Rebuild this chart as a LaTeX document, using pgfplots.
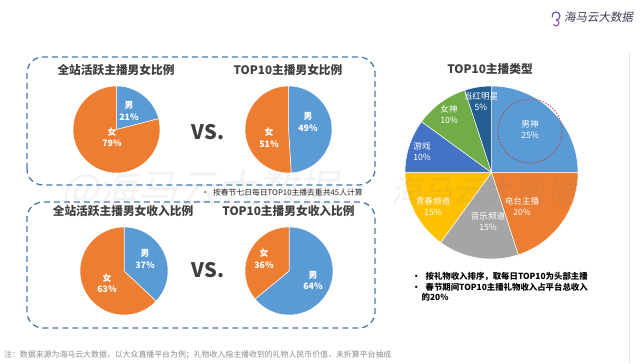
\documentclass[border=0pt]{standalone}
\usepackage{pgfplots}
\pgfplotsset{compat=1.18}
\usepackage{fontspec}
\setmainfont{Noto Sans CJK SC}
\newfontfamily\logofont[FakeSlant=0.18]{Noto Sans CJK SC}
\definecolor{cmale}{HTML}{5B9BD5}
\definecolor{cfemale}{HTML}{ED7D31}
\definecolor{cgray}{HTML}{A5A5A5}
\definecolor{cyellow}{HTML}{FFC000}
\definecolor{cdblue}{HTML}{4472C4}
\definecolor{cgreen}{HTML}{70AD47}
\definecolor{cnavy}{HTML}{255E91}
\definecolor{boxblue}{HTML}{4A78A8}
\definecolor{titlec}{HTML}{404040}
\definecolor{notec}{HTML}{8C8C8C}
\definecolor{redc}{HTML}{C0392B}
\pgfplotsset{pie/.style={scale only axis, hide axis, xmin=-1, xmax=1, ymin=-1, ymax=1, anchor=center, clip=false}}
% slice: #1 = cumulative share before it, #2 = share (percent), #3 = colour; slices run clockwise from 12 o'clock
\newcommand\pieslice[3]{\addplot[fill=#3, draw=white, line width=0.5pt, mark=none, domain=90-3.6*(#1+#2):90-3.6*#1, samples=90, variable=\t] ({cos(\t)},{sin(\t)}) -- (axis cs:0,0) -- cycle;}
\newcommand\ttl{\fontsize{11.7}{14}\selectfont\bfseries\color{titlec}}
\tikzset{lbl/.style={align=center, text=white, font=\fontsize{8.8}{11.5}\selectfont\bfseries},
         blbl/.style={align=center, text=white, font=\fontsize{8.6}{11}\selectfont}}
\begin{document}
\begin{tikzpicture}
\fill[white] (0pt,0pt) rectangle (644pt,363pt);
% watermark
\node[opacity=0.09, text=gray] at (200pt,173pt) {\logofont\fontsize{40}{44}\selectfont @海马云大数据};
% boxes
\draw[boxblue, line width=1.3pt, dash pattern=on 6pt off 4pt, rounded corners=16pt] (27pt,178pt) rectangle (375pt,306pt);
\draw[boxblue, line width=1.3pt, dash pattern=on 6pt off 4pt, rounded corners=16pt] (27pt,35pt) rectangle (375pt,161pt);
% right divider
\draw[gray!20, line width=0.8pt] (629pt,0pt) -- (629pt,310pt);
% titles
\node at (116pt,293pt) {\ttl 全站活跃主播男女比例};
\node at (288pt,293pt) {\ttl TOP10主播男女比例};
\node at (123pt,152pt) {\ttl 全站活跃主播男女收入比例};
\node at (288.5pt,152pt) {\ttl TOP10主播男女收入比例};
\node at (490pt,294pt) {\ttl TOP10主播类型};
\node at (208pt,231pt) {\fontsize{20}{22}\selectfont\bfseries\color{titlec}VS.};
\node at (208pt,93pt) {\fontsize{20}{22}\selectfont\bfseries\color{titlec}VS.};
\node at (282pt,170pt) {\fontsize{7.8}{9}\selectfont\color{black!85}•\hspace{4pt}按春节七日每日TOP10主播去重共45人计算};
% pie 1
\begin{axis}[pie, at={(116.5pt,233.5pt)}, width=87pt, height=87pt]
\pieslice{0}{21}{cmale}
\pieslice{21}{79}{cfemale}
\end{axis}
% pie 2
\begin{axis}[pie, at={(288.5pt,233.5pt)}, width=87pt, height=87pt]
\pieslice{0}{49}{cmale}
\pieslice{49}{51}{cfemale}
\end{axis}
% pie 3
\begin{axis}[pie, at={(124pt,92pt)}, width=88pt, height=88pt]
\pieslice{0}{37}{cmale}
\pieslice{37}{63}{cfemale}
\end{axis}
% pie 4
\begin{axis}[pie, at={(289pt,92pt)}, width=88pt, height=88pt]
\pieslice{0}{64}{cmale}
\pieslice{64}{36}{cfemale}
\end{axis}
% big pie
\begin{axis}[pie, at={(491.5pt,190.5pt)}, width=173pt, height=173pt]
\pieslice{0}{25}{cmale}
\pieslice{25}{20}{cfemale}
\pieslice{45}{15}{cgray}
\pieslice{60}{15}{cyellow}
\pieslice{75}{10}{cdblue}
\pieslice{85}{10}{cgreen}
\pieslice{95}{5}{cnavy}
\end{axis}
% pie labels
\node[lbl] at (129pt,252pt) {男\\21\%};
\node[lbl] at (112pt,225.5pt) {女\\79\%};
\node[lbl] at (308pt,241pt) {男\\49\%};
\node[lbl] at (269pt,225pt) {女\\51\%};
\node[lbl] at (145pt,104pt) {男\\37\%};
\node[lbl] at (107pt,79.5pt) {女\\63\%};
\node[lbl] at (264pt,104pt) {女\\36\%};
\node[lbl] at (313pt,82.5pt) {男\\64\%};
\node[blbl] at (481pt,261.5pt) {当红明星\\5\%};
\node[blbl] at (449pt,248.5pt) {女神\\10\%};
\node[blbl] at (530pt,234pt) {男神\\25\%};
\node[blbl] at (422pt,211.5pt) {游戏\\10\%};
\node[blbl] at (433pt,156.5pt) {青春频道\\15\%};
\node[blbl] at (522pt,156.5pt) {电台主播\\20\%};
\node[blbl] at (488pt,141.5pt) {音乐频道\\15\%};
\draw[redc, line width=0.7pt, dash pattern=on 1.5pt off 1.5pt] (530pt,232pt) circle (32pt);
\node[opacity=0.10, text=gray] at (484pt,172pt) {\logofont\fontsize{31}{34}\selectfont 海马云大数据};
% bullets
\node[anchor=west, inner sep=0pt] at (412pt,86pt) {\fontsize{8.4}{10}\selectfont\bfseries •\hspace{5pt}按礼物收入排序，取每日TOP10为头部主播};
\node[anchor=west, inner sep=0pt] at (412pt,76pt) {\fontsize{8.4}{10}\selectfont\bfseries •\hspace{5pt}春节期间TOP10主播礼物收入占平台总收入};
\node[anchor=west, inner sep=0pt] at (421.5pt,66pt) {\fontsize{8.4}{10}\selectfont\bfseries 的20\%};
% footnote
\node[anchor=west, inner sep=0pt] at (4pt,8pt) {\fontsize{7.9}{9}\selectfont\color{notec}注：数据来源为海马云大数据，以大众直播平台为例；礼物收入指主播收到的礼物人民币价值，未折算平台抽成};
% logo
\draw[cdblue!70!violet, line width=1.1pt] (556pt,343pt) arc[start angle=-90, end angle=200, radius=4pt];
\draw[violet!70, line width=1.1pt] (556pt,343pt) arc[start angle=90, end angle=-150, radius=3pt];
\node[anchor=west, inner sep=0pt] at (564pt,346pt) {\logofont\fontsize{11.5}{13}\selectfont\color{titlec!90!blue}海马云大数据};
\end{tikzpicture}
\end{document}
